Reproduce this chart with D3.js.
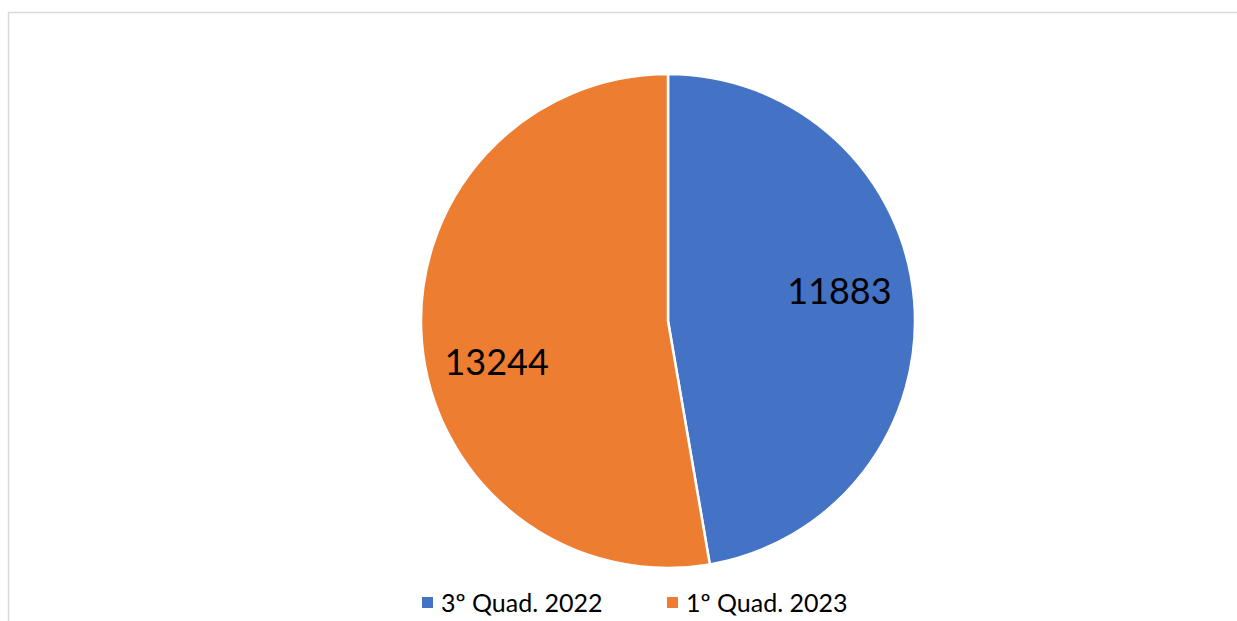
<!DOCTYPE html>
<html>
<head>
<meta charset="utf-8">
<script src="https://cdn.jsdelivr.net/npm/d3@7"></script>
<style>
  body { margin: 0; background: #fff; }
  svg { display: block; font-family: Lato, "Open Sans", sans-serif; }
</style>
</head>
<body>
<div id="chart-area"></div>
<script>
// Data
let categories = ["3º Quad. 2022", "1º Quad. 2023"];
let values = [11883, 13244];
let colors = ["#4472C4", "#ED7D31"];

let width = 1237, height = 621;

let svg = d3.select("#chart-area")
	.append("svg")
	.attr("width", width)
	.attr("height", height);

// chart border (runs off the right and bottom)
svg.append("rect")
	.attr("x", 8.5)
	.attr("y", 12.5)
	.attr("width", 1260)
	.attr("height", 640)
	.attr("fill", "none")
	.attr("stroke", "#d9d9d9")
	.attr("stroke-width", 1.5);

let cx = 668, cy = 321, radius = 247;

let pie = d3.pie().sort(null).value(d => d.value);
let arcs = pie(categories.map((c, i) => ({name: c, value: values[i], color: colors[i]})));

let arc = d3.arc().innerRadius(0).outerRadius(radius);
let labelArc = d3.arc().innerRadius(172).outerRadius(172);

let pieGroup = svg.append("g")
	.attr("transform", "translate(" + cx + "," + cy + ")");

pieGroup.selectAll("path")
	.data(arcs)
	.enter()
	.append("path")
	.attr("d", arc)
	.attr("fill", d => d.data.color)
	.attr("stroke", "#fff")
	.attr("stroke-width", 2.5)
	.attr("stroke-linejoin", "round");

// Excel "best fit" puts the labels a little off the centroid
let labelNudge = [[0, -16], [0, 25]];

pieGroup.selectAll(".slice-label")
	.data(arcs)
	.enter()
	.append("text")
	.attr("class", "slice-label")
	.attr("x", (d, i) => labelArc.centroid(d)[0] + labelNudge[i][0])
	.attr("y", (d, i) => labelArc.centroid(d)[1] + labelNudge[i][1])
	.attr("text-anchor", "middle")
	.attr("dominant-baseline", "central")
	.style("font-size", "36px")
	.style("fill", "#000")
	.text(d => d.data.value);

// Legend
let legendX = [422, 667];
let legend = svg.selectAll(".legend")
	.data(categories)
	.enter()
	.append("g")
	.attr("class", "legend")
	.attr("transform", (d, i) => "translate(" + legendX[i] + ",597)");

legend.append("rect")
	.attr("width", 11)
	.attr("height", 11)
	.attr("fill", (d, i) => colors[i]);

legend.append("text")
	.attr("x", 19)
	.attr("y", 15)
	.style("font-size", "25px")
	.style("fill", "#000")
	.text(d => d);
</script>
</body>
</html>
